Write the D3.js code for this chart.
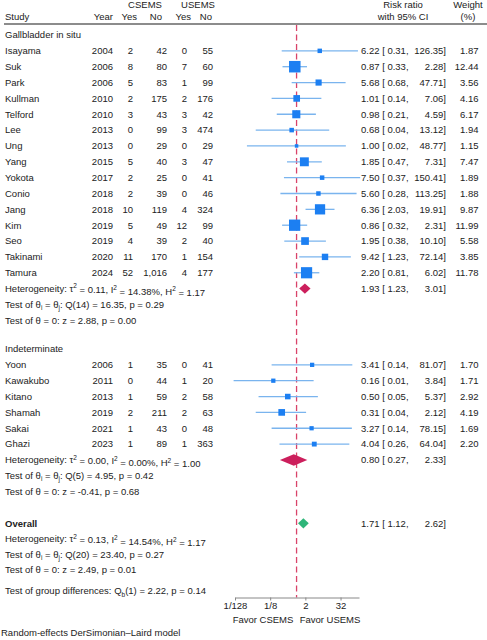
<!DOCTYPE html>
<html>
<head>
  <meta charset="UTF-8">
  <title>Forest plot</title>
  <script src="https://cdn.jsdelivr.net/npm/d3@7"></script>
  <style>
    body { margin: 0; background: #fff; }
    svg { font-family: "Liberation Sans", Arial, Helvetica, sans-serif; font-size: 9.5px; fill: #222; }
    .sub { font-size: 6.5px; }
  </style>
</head>
<body>
<div id="chart"></div>
<script>
  // studies, in the order drawn
  var studies   = ["Isayama", "Suk", "Park", "Kullman", "Telford", "Lee", "Ung", "Yang", "Yokota", "Conio",
                   "Jang", "Kim", "Seo", "Takinami", "Tamura",
                   "Yoon", "Kawakubo", "Kitano", "Shamah", "Sakai", "Ghazi"];
  var groupOf   = [1,1,1,1,1,1,1,1,1,1,1,1,1,1,1, 2,2,2,2,2,2];
  var years     = [2004, 2006, 2006, 2010, 2010, 2013, 2013, 2015, 2017, 2018, 2018, 2019, 2019, 2020, 2024,
                   2006, 2011, 2013, 2019, 2021, 2023];
  var csemsYes  = [2, 8, 5, 2, 3, 0, 0, 5, 2, 2, 10, 5, 4, 11, 52,   1, 0, 1, 2, 1, 1];
  var csemsNo   = [42, 80, 83, 175, 43, 99, 29, 40, 25, 39, 119, 49, 39, 170, 1016,   35, 44, 59, 211, 43, 89];
  var usemsYes  = [0, 7, 1, 2, 3, 3, 0, 3, 0, 0, 4, 12, 2, 1, 4,   0, 1, 2, 2, 0, 1];
  var usemsNo   = [55, 60, 99, 176, 42, 474, 29, 47, 41, 46, 324, 99, 40, 154, 177,   41, 20, 58, 63, 48, 363];
  var rr        = [6.22, 0.87, 5.68, 1.01, 0.98, 0.68, 1.00, 1.85, 7.50, 5.60, 6.36, 0.86, 1.95, 9.42, 2.20,
                   3.41, 0.16, 0.50, 0.31, 3.27, 4.04];
  var ciLow     = [0.31, 0.33, 0.68, 0.14, 0.21, 0.04, 0.02, 0.47, 0.37, 0.28, 2.03, 0.32, 0.38, 1.23, 0.81,
                   0.14, 0.007, 0.05, 0.04, 0.14, 0.26];
  var ciHigh    = [126.35, 2.28, 47.71, 7.06, 4.59, 13.12, 48.77, 7.31, 150.41, 113.25, 19.91, 2.31, 10.10, 72.14, 6.02,
                   81.07, 3.84, 5.37, 2.12, 78.15, 64.04];
  var weights   = [1.87, 12.44, 3.56, 4.16, 6.17, 1.94, 1.15, 7.47, 1.89, 1.88, 9.87, 11.99, 5.58, 3.85, 11.78,
                   1.70, 1.71, 2.92, 4.19, 1.69, 2.20];

  // pooled estimates: group 1, group 2, overall
  var pooledName = ["Gallbladder in situ", "Indeterminate", "Overall"];
  var pooledRR   = [1.93, 0.80, 1.71];
  var pooledLow  = [1.23, 0.27, 1.12];
  var pooledHigh = [3.01, 2.33, 2.62];

  // heterogeneity lines per block: [tau2, I2, H2], [Qdf, Q, p], [z, p]
  var hetTau = ["0.11", "0.00", "0.13"];
  var hetI2  = ["14.38", "0.00", "14.54"];
  var hetH2  = ["1.17", "1.00", "1.17"];
  var qDf    = ["14", "5", "20"];
  var qVal   = ["16.35", "4.95", "23.40"];
  var qP     = ["0.29", "0.42", "0.27"];
  var zVal   = ["2.88", "-0.41", "2.49"];
  var zP     = ["0.00", "0.68", "0.01"];

  var tickValues = [1/128, 1/8, 2, 32];
  var tickLabels = ["1/128", "1/8", "2", "32"];

  var width = 487, height = 640;
  var step = 15.85;

  var svg = d3.select('#chart').append('svg')
    .attr('width', width)
    .attr('height', height);

  var x = d3.scaleLog().base(2)
    .domain([Math.pow(2, -7), Math.pow(2, 7.1)])
    .range([235, 359]);

  var size = d3.scaleSqrt().domain([0, 12.44]).range([0, 11.5]);

  var fmt = d3.format(".2f");
  var comma = d3.format(",");

  var blue = "#1c7ff2", lightBlue = "#7ab4ee";
  var diamondFill = ["#cc1f5c", "#cc1f5c", "#2fb67a"];

  // header
  function txt(g, xx, yy, s, anchor) {
    return g.append('text').attr('x', xx).attr('y', yy).attr('dy', '0.35em')
      .attr('text-anchor', anchor || 'start').text(s);
  }
  txt(svg, 145, 5, "CSEMS", 'middle');
  txt(svg, 198, 5, "USEMS", 'middle');
  txt(svg, 403, 5, "Risk ratio", 'middle');
  txt(svg, 468, 5, "Weight", 'middle');
  txt(svg, 5, 17, "Study");
  txt(svg, 113, 17, "Year", 'end');
  txt(svg, 137, 17, "Yes", 'end');
  txt(svg, 162, 17, "No", 'end');
  txt(svg, 191, 17, "Yes", 'end');
  txt(svg, 212, 17, "No", 'end');
  txt(svg, 403, 17, "with 95% CI", 'middle');
  txt(svg, 468, 17, "(%)", 'middle');

  svg.append('line')
    .attr('x1', 4).attr('x2', width).attr('y1', 24).attr('y2', 24)
    .attr('stroke', '#666').attr('stroke-width', 1.5);

  // layout rows
  var rows = [];
  var y = 35;
  [1, 2].forEach(function (g, gi) {
    rows.push({ type: 'title', text: pooledName[gi], y: y });
    y += step;
    studies.forEach(function (s, i) {
      if (groupOf[i] !== g) return;
      rows.push({ type: 'study', i: i, y: y });
      y += step;
    });
    rows.push({ type: 'het', k: gi, y: y, pooled: gi });
    y += step;
    rows.push({ type: 'q', k: gi, y: y });
    y += step;
    rows.push({ type: 'z', k: gi, y: y });
    y += step + 12.85;
  });
  y = rows[rows.length - 1].y + 2 * step;
  rows.push({ type: 'title', text: pooledName[2], y: y, bold: true, pooled: 2 });
  y += step * 0.98;
  rows.push({ type: 'het', k: 2, y: y });
  y += step * 0.98;
  rows.push({ type: 'q', k: 2, y: y });
  y += step * 0.98;
  rows.push({ type: 'z', k: 2, y: y });
  var groupDiffY = y + 21;
  var axisY = 597.5;

  // null line
  svg.append('line')
    .attr('x1', x(1)).attr('x2', x(1))
    .attr('y1', 25).attr('y2', axisY)
    .attr('stroke', '#d9436a').attr('stroke-width', 1.3)
    .attr('stroke-dasharray', '6,3.5');

  function ciText(r, lo, hi, yy) {
    txt(svg, 361, yy, fmt(r) + " [ " + fmt(lo) + ",");
    txt(svg, 446, yy, fmt(hi) + "]", 'end');
  }

  rows.forEach(function (row) {
    var g = svg.append('g');
    if (row.type === 'title') {
      var t = txt(g, 5, row.y, row.text);
      if (row.bold) t.attr('font-weight', 'bold');
    } else if (row.type === 'study') {
      var i = row.i;
      txt(g, 5, row.y, studies[i]);
      txt(g, 113, row.y, years[i], 'end');
      txt(g, 133, row.y, csemsYes[i], 'end');
      txt(g, 167, row.y, comma(csemsNo[i]), 'end');
      txt(g, 187, row.y, usemsYes[i], 'end');
      txt(g, 213, row.y, usemsNo[i], 'end');
      g.append('line')
        .attr('x1', x(ciLow[i])).attr('x2', x(ciHigh[i]))
        .attr('y1', row.y).attr('y2', row.y)
        .attr('stroke', lightBlue).attr('stroke-width', 1.3);
      var s = size(weights[i]);
      g.append('rect')
        .attr('x', x(rr[i]) - s / 2).attr('y', row.y - s / 2)
        .attr('width', s).attr('height', s)
        .attr('fill', blue);
      ciText(rr[i], ciLow[i], ciHigh[i], row.y);
      txt(g, 478.5, row.y, fmt(weights[i]), 'end');
    } else if (row.type === 'het') {
      var t = g.append('text').attr('x', 5).attr('y', row.y).attr('dy', '0.35em');
      t.append('tspan').text("Heterogeneity: τ");
      t.append('tspan').attr('class', 'sub').attr('dy', '-0.55em').text("2");
      t.append('tspan').attr('dy', '0.5em').text(" = " + hetTau[row.k] + ", I");
      t.append('tspan').attr('class', 'sub').attr('dy', '-0.5em').text("2");
      t.append('tspan').attr('dy', '0.5em').text(" = " + hetI2[row.k] + "%, H");
      t.append('tspan').attr('class', 'sub').attr('dy', '-0.5em').text("2");
      t.append('tspan').attr('dy', '0.5em').text(" = " + hetH2[row.k]);
    } else if (row.type === 'q') {
      var t = g.append('text').attr('x', 5).attr('y', row.y).attr('dy', '0.35em');
      t.append('tspan').text("Test of θ");
      t.append('tspan').attr('class', 'sub').attr('dy', '0.35em').text("i");
      t.append('tspan').attr('dy', '-0.25em').text(" = θ");
      t.append('tspan').attr('class', 'sub').attr('dy', '0.35em').text("j");
      t.append('tspan').attr('dy', '-0.25em').text(": Q(" + qDf[row.k] + ") = " + qVal[row.k] + ", p = " + qP[row.k]);
    } else if (row.type === 'z') {
      txt(g, 5, row.y, "Test of θ = 0: z = " + zVal[row.k] + ", p = " + zP[row.k]);
    }
    if (row.pooled !== undefined) {
      var k = row.pooled;
      var h = k === 1 ? 5.8 : 5.2;
      var pts = [[x(pooledLow[k]), row.y], [x(pooledRR[k]), row.y - h],
                 [x(pooledHigh[k]), row.y], [x(pooledRR[k]), row.y + h]];
      g.append('path')
        .attr('d', d3.line()(pts) + 'Z')
        .attr('fill', diamondFill[k]);
      ciText(pooledRR[k], pooledLow[k], pooledHigh[k], row.y);
    }
  });

  // group differences
  var gd = svg.append('text').attr('x', 5).attr('y', groupDiffY).attr('dy', '0.35em');
  gd.append('tspan').text("Test of group differences: Q");
  gd.append('tspan').attr('class', 'sub').attr('dy', '0.35em').text("b");
  gd.append('tspan').attr('dy', '-0.25em').text("(1) = 2.22, p = 0.14");

  // axis
  var axis = svg.append('g')
    .attr('transform', 'translate(0,' + axisY + ')')
    .call(d3.axisBottom(x).tickValues(tickValues)
      .tickFormat(function (d, i) { return tickLabels[i]; })
      .tickSize(3).tickSizeOuter(0));
  axis.select('.domain').attr('stroke', '#888');
  axis.selectAll('.tick line').attr('stroke', '#888');
  axis.selectAll('.tick text')
    .attr('font-family', '"Liberation Sans", Arial, sans-serif')
    .attr('font-size', '9.5px').attr('fill', '#222').attr('y', 5);

  txt(svg, 263, 620, "Favor CSEMS", 'middle');
  txt(svg, 330, 620, "Favor USEMS", 'middle');

  txt(svg, 1, 633, "Random-effects DerSimonian–Laird model");
</script>
</body>
</html>
